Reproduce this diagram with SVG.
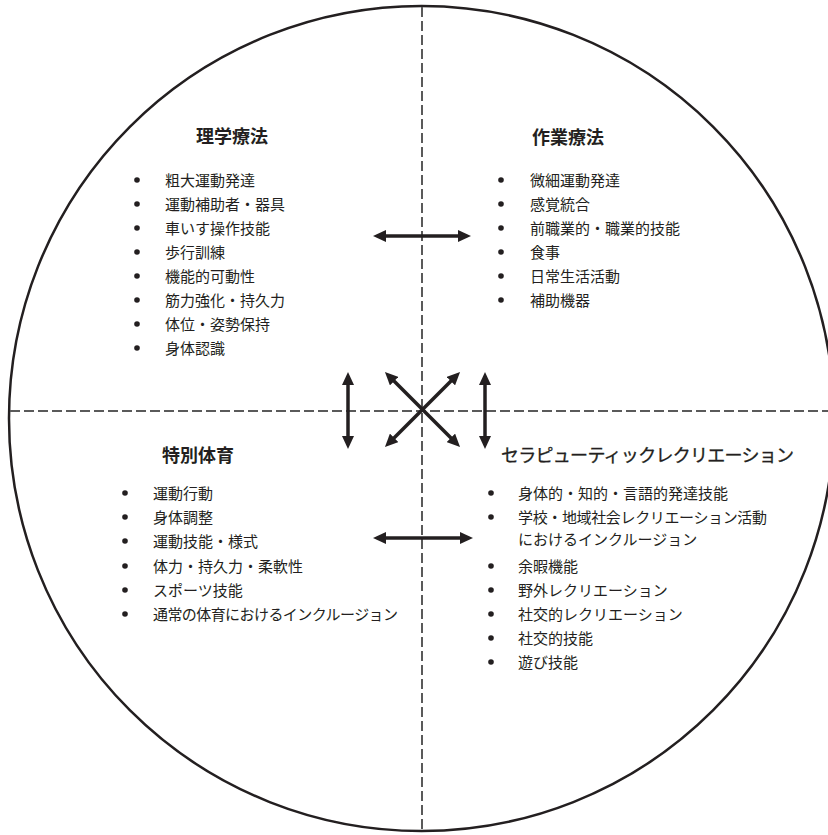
<svg xmlns="http://www.w3.org/2000/svg" width="828" height="835" viewBox="0 0 828 835">
<style>
text{font-family:"Noto Sans CJK JP","Noto Sans",sans-serif;fill:#231f20}
.h{font-size:18px;font-weight:bold}
.h2{font-size:18px;font-weight:normal;stroke:#231f20;stroke-width:0.3}
.i{font-size:15px}
.b{fill:#231f20}
.dash{stroke:#5a5a5a;stroke-width:2;stroke-dasharray:10 4;fill:none}
.arr{stroke:#231f20;stroke-width:3.5;fill:none;marker-start:url(#ah);marker-end:url(#ah)}
</style>
<defs>
<marker id="ah" markerUnits="userSpaceOnUse" markerWidth="13" markerHeight="12" refX="8" refY="6" orient="auto-start-reverse" viewBox="0 0 13 12">
<path d="M0,0 L13,6 L0,12 z" fill="#231f20"/>
</marker>
</defs>
<rect width="828" height="835" fill="#fff"/>
<g id="frame">
<circle cx="421.5" cy="418.5" r="412.5" fill="none" stroke="#231f20" stroke-width="2.5"/>
<line class="dash" x1="422" y1="7" x2="422" y2="830"/>
<line class="dash" x1="10" y1="411" x2="828" y2="411"/>
</g>
<g id="connectors">
<line class="arr" x1="378" y1="236" x2="466" y2="236"/>
<line class="arr" x1="378" y1="538" x2="468" y2="538"/>
<line class="arr" x1="348" y1="377" x2="348" y2="444"/>
<line class="arr" x1="485" y1="377" x2="485" y2="444"/>
<line class="arr" x1="388.5" y1="375.5" x2="456.5" y2="443.5"/>
<line class="arr" x1="456.5" y1="375.5" x2="388.5" y2="443.5"/>
</g>
<g id="pt">
<text class="h" x="232" y="143" text-anchor="middle">理学療法</text>
<g class="b">
<circle cx="137" cy="180" r="2.8"/><circle cx="137" cy="204" r="2.8"/><circle cx="137" cy="228" r="2.8"/><circle cx="137" cy="252" r="2.8"/><circle cx="137" cy="276" r="2.8"/><circle cx="137" cy="300" r="2.8"/><circle cx="137" cy="324" r="2.8"/><circle cx="137" cy="348" r="2.8"/>
</g>
<text class="i" x="165" y="185.7">粗大運動発達</text>
<text class="i" x="165" y="209.7">運動補助者・器具</text>
<text class="i" x="165" y="233.7">車いす操作技能</text>
<text class="i" x="165" y="257.7">歩行訓練</text>
<text class="i" x="165" y="281.7">機能的可動性</text>
<text class="i" x="165" y="305.7">筋力強化・持久力</text>
<text class="i" x="165" y="329.7">体位・姿勢保持</text>
<text class="i" x="165" y="353.7">身体認識</text>
</g>
<g id="ot">
<text class="h" x="568" y="144" text-anchor="middle">作業療法</text>
<g class="b">
<circle cx="501" cy="180" r="2.8"/><circle cx="501" cy="204" r="2.8"/><circle cx="501" cy="228" r="2.8"/><circle cx="501" cy="252" r="2.8"/><circle cx="501" cy="276" r="2.8"/><circle cx="501" cy="300" r="2.8"/>
</g>
<text class="i" x="530" y="185.7">微細運動発達</text>
<text class="i" x="530" y="209.7">感覚統合</text>
<text class="i" x="530" y="233.7">前職業的・職業的技能</text>
<text class="i" x="530" y="257.7">食事</text>
<text class="i" x="530" y="281.7">日常生活活動</text>
<text class="i" x="530" y="305.7">補助機器</text>
</g>
<g id="pe">
<text class="h" x="198" y="462" text-anchor="middle">特別体育</text>
<g class="b">
<circle cx="125" cy="493" r="2.8"/><circle cx="125" cy="517" r="2.8"/><circle cx="125" cy="541" r="2.8"/><circle cx="125" cy="566" r="2.8"/><circle cx="125" cy="590" r="2.8"/><circle cx="125" cy="614" r="2.8"/>
</g>
<text class="i" x="153" y="498.7">運動行動</text>
<text class="i" x="153" y="522.7">身体調整</text>
<text class="i" x="153" y="546.7">運動技能・様式</text>
<text class="i" x="153" y="571.7">体力・持久力・柔軟性</text>
<text class="i" x="153" y="595.7">スポーツ技能</text>
<text class="i" x="153" y="619.7" textLength="245">通常の体育におけるインクルージョン</text>
</g>
<g id="tr">
<text class="h2" x="501" y="462" textLength="293">セラピューティックレクリエーション</text>
<g class="b">
<circle cx="491" cy="493" r="2.8"/><circle cx="491" cy="517" r="2.8"/><circle cx="491" cy="566" r="2.8"/><circle cx="491" cy="590" r="2.8"/><circle cx="491" cy="614" r="2.8"/><circle cx="491" cy="638" r="2.8"/><circle cx="491" cy="662" r="2.8"/>
</g>
<text class="i" x="518" y="498.7">身体的・知的・言語的発達技能</text>
<text class="i" x="518" y="522.7" textLength="249">学校・地域社会レクリエーション活動</text>
<text class="i" x="518" y="544.7">におけるインクルージョン</text>
<text class="i" x="518" y="571.7">余暇機能</text>
<text class="i" x="518" y="595.7">野外レクリエーション</text>
<text class="i" x="518" y="619.7">社交的レクリエーション</text>
<text class="i" x="518" y="643.7">社交的技能</text>
<text class="i" x="518" y="667.7">遊び技能</text>
</g>
</svg>
